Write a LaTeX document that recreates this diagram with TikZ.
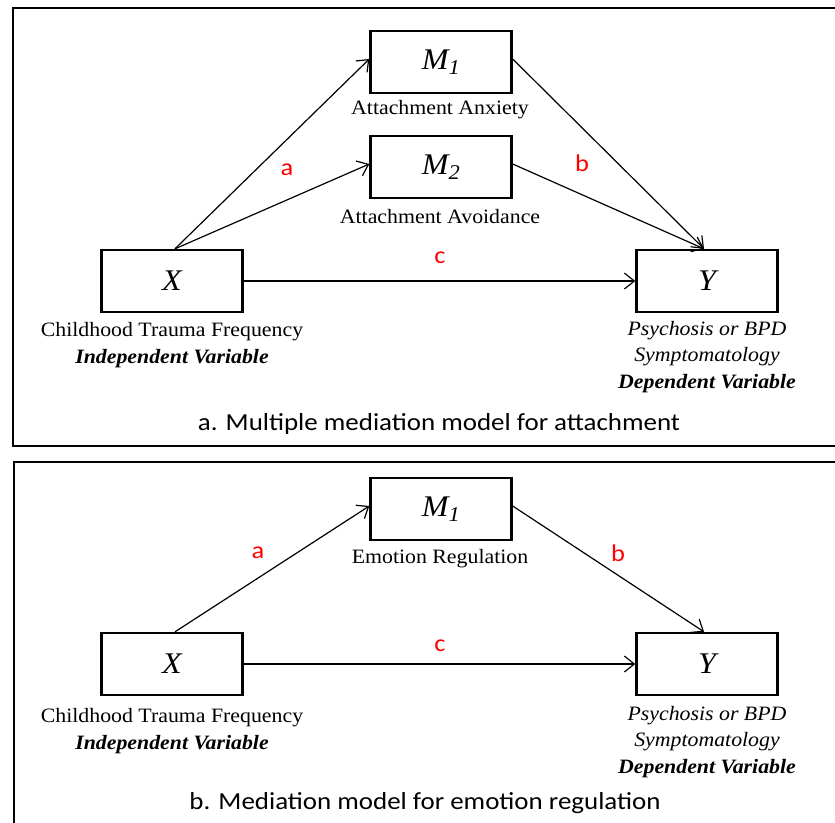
\documentclass[tikz,border=0pt]{standalone}
\usepackage{fontspec}
\setmainfont{Liberation Serif}[FakeStretch=1.07]
\newfontfamily\capfont{Carlito}[FakeStretch=1.1]
\usetikzlibrary{arrows.meta}

\tikzset{
  varbox/.style={draw, line width=2.4pt, minimum width=141pt, minimum height=62pt,
    inner sep=0pt, font=\fontsize{30}{30}\selectfont\itshape},
  lbl/.style={font=\fontsize{20.4}{26.5}\selectfont, align=center, inner sep=0pt},
  effect/.style={draw, line width=1.2pt,
    -{Straight Barb[length=10pt,width=16pt,line width=1.2pt]}},
  coef/.style={text=red, inner sep=0pt, font=\capfont\fontsize{24}{24}\selectfont},
  capt/.style={inner sep=0pt, font=\capfont\fontsize{24.5}{24.5}\selectfont},
  panel/.style={draw, line width=2.6pt}
}

\begin{document}
\begin{tikzpicture}[x=1pt, y=-1pt]
\useasboundingbox (0,0) rectangle (835,822);
\clip (0,0) rectangle (835,822);

% ---------- panel a: multiple mediation ----------
\draw[panel] (13,8) rectangle (860,446);

\node[varbox] (aM1) at (441,62)  {M\textsubscript{1}};
\node[varbox] (aM2) at (441,167) {M\textsubscript{2}};
\node[varbox] (aX)  at (172,281) {X};
\node[varbox] (aY)  at (707,281) {Y};

\node[lbl] (aM1t) at (440,110) {Attachment Anxiety};
\node[lbl] (aM2t) at (440,217) {Attachment Avoidance};
\node[lbl] (aXt)  at (172,345) {Childhood Trauma Frequency\\\textbf{\textit{Independent Variable}}};
\node[lbl] (aYt)  at (707,357) {\textit{Psychosis or BPD}\\\textit{Symptomatology}\\\textbf{\textit{Dependent Variable}}};

\draw[effect] ([xshift=3pt]aX.north) -- ([yshift=3pt]aM1.west);
\draw[effect] ([xshift=3pt]aX.north) -- ([yshift=3pt]aM2.west);
\draw[effect] ([yshift=3pt]aM1.east) -- ([xshift=-3pt]aY.north);
\draw[effect] ([yshift=3pt]aM2.east) -- ([xshift=-3pt]aY.north);
\draw[effect] (aX.east) -- (aY.west);

\node[coef] (aa) at (287,170) {a};
\node[coef] (ab) at (582,163) {b};
\node[coef] (ac) at (440,258) {c};

\node[capt] (acap) at (439,424) {a. Multiple mediation model for attachment};

% ---------- panel b: single mediation ----------
\draw[panel] (14,462) rectangle (860,850);

\node[varbox] (bM1) at (441,509) {M\textsubscript{1}};
\node[varbox] (bX)  at (172,664) {X};
\node[varbox] (bY)  at (707,664) {Y};

\node[lbl] (bM1t) at (440,559) {Emotion Regulation};
\node[lbl] (bXt)  at (172,731) {Childhood Trauma Frequency\\\textbf{\textit{Independent Variable}}};
\node[lbl] (bYt)  at (707,742) {\textit{Psychosis or BPD}\\\textit{Symptomatology}\\\textbf{\textit{Dependent Variable}}};

\draw[effect] ([xshift=3pt]bX.north) -- ([yshift=3pt]bM1.west);
\draw[effect] ([yshift=3pt]bM1.east) -- ([xshift=-3pt]bY.north);
\draw[effect] (bX.east) -- (bY.west);

\node[coef] (ba) at (258,553) {a};
\node[coef] (bb) at (618,553) {b};
\node[coef] (bc) at (440,646) {c};

\node[capt] (bcap) at (425,803) {b. Mediation model for emotion regulation};
\end{tikzpicture}
\end{document}
